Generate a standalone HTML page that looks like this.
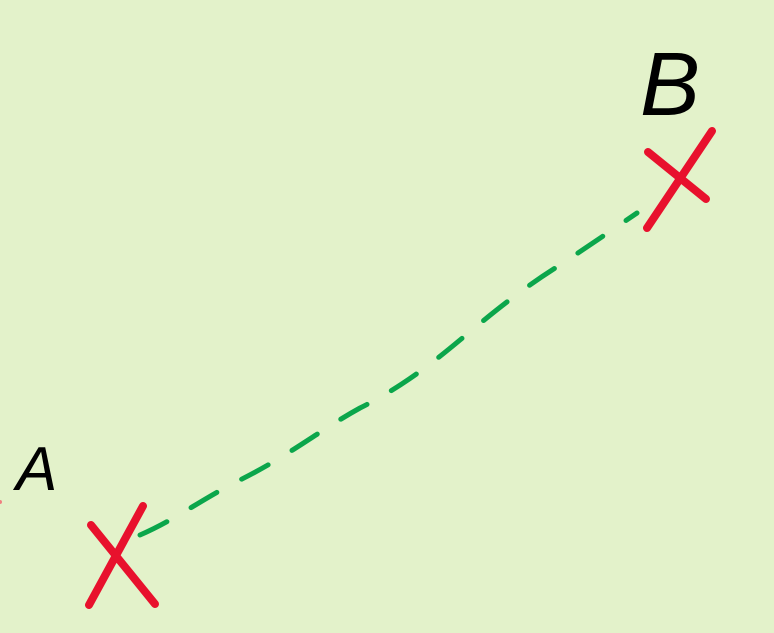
<!DOCTYPE html>
<html><head><meta charset="utf-8"><style>
html,body{margin:0;padding:0;background:#e3f2ca;}
svg{display:block;}
</style></head><body>
<svg width="774" height="633" viewBox="0 0 774 633">
<rect width="774" height="633" fill="#e3f2ca"/>
<path d="M140,535 C175,520 200,500 240,480 C290,455 320,430 360,408 C400,388 430,365 460,340 C490,315 520,290 560,265 C590,245 615,228 637,213" fill="none" stroke="#0ba64b" stroke-width="5" stroke-linecap="round" stroke-dasharray="30 28"/>
<g stroke="#e8112d" stroke-width="8" stroke-linecap="round" fill="none">
<line x1="89" y1="605" x2="143" y2="506"/>
<line x1="91" y1="525" x2="155" y2="604"/>
</g>
<g stroke="#e8112d" stroke-width="8" stroke-linecap="round" fill="none">
<line x1="647" y1="228" x2="712" y2="131"/>
<line x1="648" y1="152" x2="706" y2="199"/>
</g>
<circle cx="0" cy="502" r="2" fill="#f08080"/>
<text x="16" y="490" font-family="Liberation Sans, sans-serif" font-size="62" font-style="italic" fill="#000">A</text>
<text x="640" y="115" font-family="Liberation Sans, sans-serif" font-size="90" font-style="italic" fill="#000">B</text>
</svg>
</body></html>
